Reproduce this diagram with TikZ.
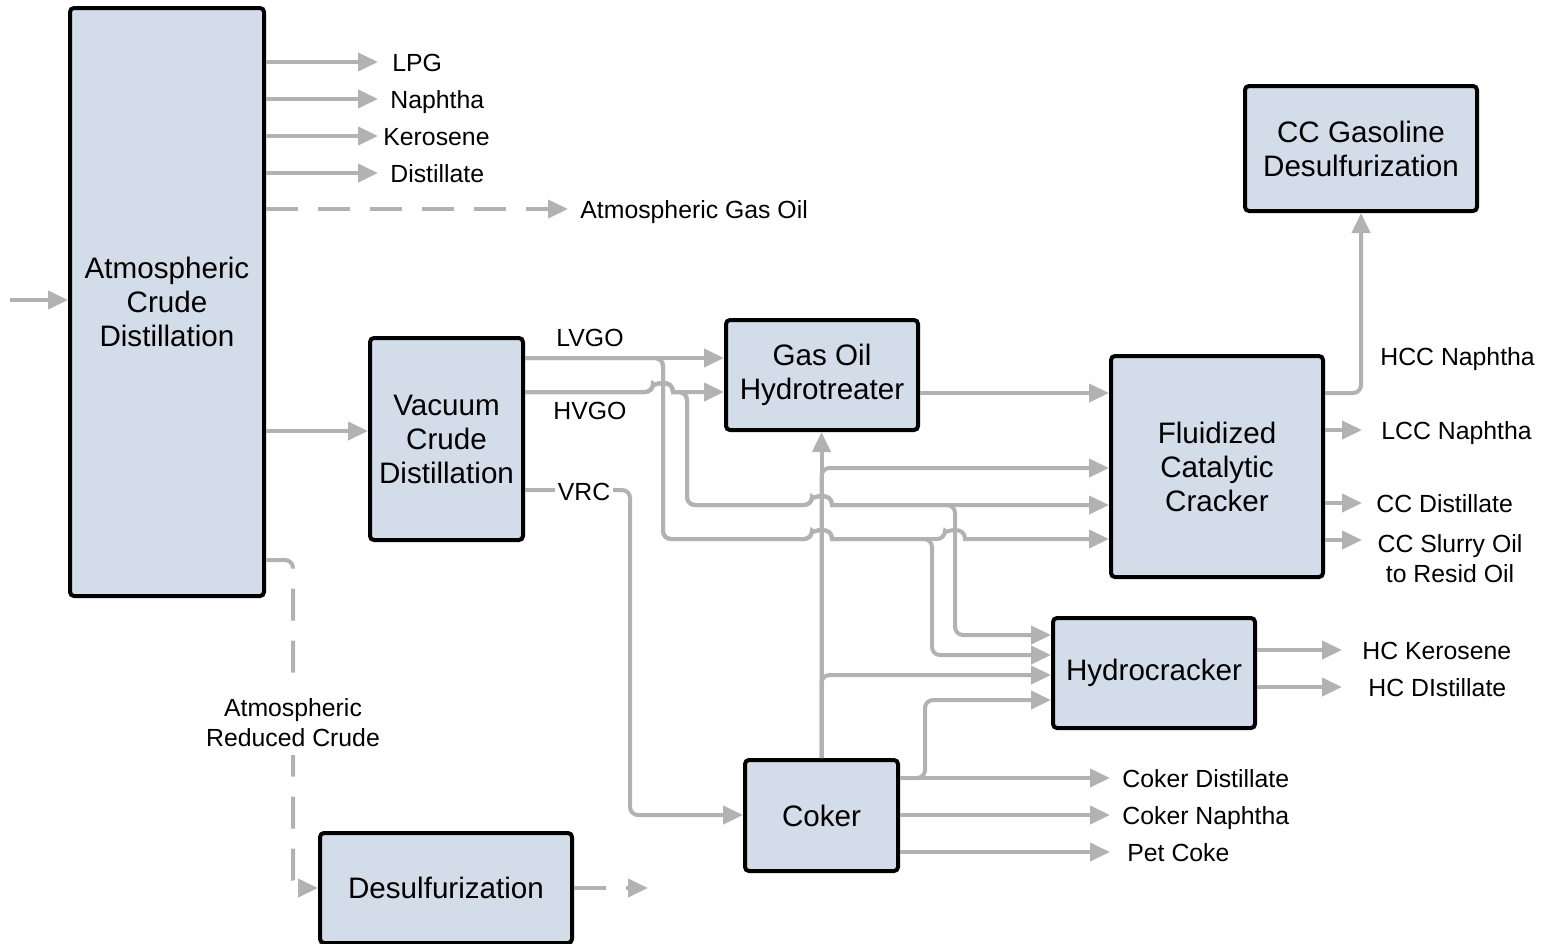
\documentclass[tikz,border=0pt]{standalone}
\usepackage{xcolor}
\definecolor{unitblue}{RGB}{211,220,233}
\definecolor{flowgrey}{RGB}{178,178,178}
\usepackage{fontspec}
\setmainfont{Liberation Sans}
\usepackage{tikz}
\usetikzlibrary{arrows.meta}
\newcommand{\unitfont}{\fontsize{14.8}{17}\selectfont}
\newcommand{\tagfont}{\fontsize{12.4}{15}\selectfont}
% small bridge where a flow jumps over another one
\newcommand{\flowhop}[2]{-- ({#1-10},#2) [sharp corners] .. controls ({#1-10},{#2-6}) and ({#1-6},{#2-9}) .. (#1,{#2-9}) .. controls ({#1+6},{#2-9}) and ({#1+10},{#2-6}) .. ({#1+10},#2) -- ({#1+12},#2) [rounded corners=4pt]}
\tikzset{
    unit/.style={draw, line width=2pt, fill=unitblue, rounded corners=2pt, align=center, font=\unitfont, inner sep=2pt},
    flow/.style={draw=flowgrey, line width=2pt, rounded corners=4pt},
    feed/.style={flow, -{Triangle[length=10pt, width=9pt]}},
    side/.style={feed, dash pattern=on 16pt off 10pt},
    tag/.style={font=\tagfont, anchor=west, inner ysep=0pt, inner xsep=6pt, text height=9pt, text depth=0pt},
    cut/.style={font=\tagfont, fill=white, inner sep=2pt, align=center}
}
\begin{document}
\begin{tikzpicture}[x=0.5pt, y=-0.5pt]
    \useasboundingbox (0,0) rectangle (1551,943);

    \node[unit, minimum width=97pt, minimum height=294pt] (acd) at (167,302) {Atmospheric\\Crude\\Distillation};
    \node[unit, minimum width=76.5pt, minimum height=101pt] (vcd) at (446.5,439) {Vacuum\\Crude\\Distillation};
    \node[unit, minimum width=96pt, minimum height=55pt] (goh) at (822,375) {Gas Oil\\Hydrotreater};
    \node[unit, minimum width=106pt, minimum height=110.5pt] (fcc) at (1217,466.5) {Fluidized\\Catalytic\\Cracker};
    \node[unit, minimum width=116pt, minimum height=62.5pt] (ccgd) at (1361,148.5) {CC Gasoline\\Desulfurization};
    \node[unit, minimum width=101pt, minimum height=55pt] (hc) at (1154,673) {Hydrocracker};
    \node[unit, minimum width=76.5pt, minimum height=55.5pt] (coker) at (821.5,815.5) {Coker};
    \node[unit, minimum width=126pt, minimum height=55pt] (desulf) at (446,888) {Desulfurization};

    \node[tag, inner xsep=7pt] (lpg) at (378,62) {LPG};
    \node[tag] (naphtha) at (378,99) {Naphtha};
    \node[tag, inner xsep=2.5pt] (kero) at (378,136) {Kerosene};
    \node[tag] (dist) at (378,173) {Distillate};
    \node[tag] (ago) at (568,209) {Atmospheric Gas Oil};
    \node[font=\tagfont] (lvgo) at (590,338) {LVGO};
    \node[font=\tagfont] (hvgo) at (590,411) {HVGO};
    \node[tag, inner xsep=0pt] (hcc) at (1380,356) {HCC Naphtha};
    \node[tag, inner xsep=9.5pt] (lcc) at (1362,430) {LCC Naphtha};
    \node[tag, inner xsep=7pt] (ccdist) at (1362,503) {CC Distillate};
    \node[font=\tagfont, align=center, anchor=north, inner sep=0pt] (slurry) at (1450,534) {CC Slurry Oil\\to Resid Oil};
    \node[tag, inner xsep=10pt] (hcker) at (1342,650) {HC Kerosene};
    \node[tag, inner xsep=13pt] (hcdist) at (1342,687) {HC DIstillate};
    \node[tag] (ckdist) at (1110,778) {Coker Distillate};
    \node[tag] (cknaph) at (1110,815) {Coker Naphtha};
    \node[tag, inner xsep=8.5pt] (petcoke) at (1110,852) {Pet Coke};
    \coordinate (crude) at (10,300);
    \coordinate (slurrytip) at (1362,540);
    \coordinate (dsout) at (648,888);

    % crude unit
    \draw[feed] (crude) -- (acd.west |- crude);
    \foreach \p in {lpg,naphtha,kero,dist}
        \draw[feed] (acd.east |- \p) -- (\p);
    \draw[side] (acd.east |- ago) -- (ago);
    \draw[feed] (acd.east |- 0,431) -- (vcd.west |- 0,431);
    \draw[side] (acd.east |- 0,560) -- (293,560) -- (293,888) -- (desulf.west);
    \node[cut, inner ysep=4pt] (arc) at (293,723) {Atmospheric\\Reduced Crude};
    \draw[side] (desulf.east) -- (dsout);

    % vacuum unit
    \draw[feed] (vcd.east |- 0,358) -- (goh.west |- 0,358);
    \draw[feed] (vcd.east |- 0,392) \flowhop{663}{392} -- (goh.west |- 0,392);
    \draw[feed] (vcd.east |- 0,358) -- (663,358) -- (663,539) \flowhop{822}{539} \flowhop{955}{539} -- (fcc.west |- 0,539);
    \draw[feed] (vcd.east |- 0,358) -- (663,358) -- (663,539) \flowhop{822}{539} -- (932,539) -- (932,655) -- (hc.west |- 0,655);
    \draw[feed] (vcd.east |- 0,392) \flowhop{663}{392} -- (687,392) -- (687,505) \flowhop{822}{505} -- (fcc.west |- 0,505);
    \draw[feed] (vcd.east |- 0,392) \flowhop{663}{392} -- (687,392) -- (687,505) \flowhop{822}{505} -- (955,505) -- (955,635) -- (hc.west |- 0,635);
    \draw[feed] (vcd.east |- 0,490) -- (630,490) -- (630,815) -- (coker.west |- 0,815);
    \node[cut, inner sep=1.5pt] (vrc) at (584,492) {VRC};

    % coker
    \draw[feed] (coker.north) -- (coker.north |- goh.south);
    \draw[feed] (coker.north) -- (coker.north |- 0,468) -- (fcc.west |- 0,468);
    \draw[feed] (coker.north) -- (coker.north |- 0,675) -- (hc.west |- 0,675);
    \draw[feed] (coker.east |- ckdist) -- (925,778) -- (925,700) -- (hc.west |- 0,700);
    \foreach \p in {ckdist,cknaph,petcoke}
        \draw[feed] (coker.east |- \p) -- (\p);

    % cat cracker and hydrocracker
    \draw[feed] (goh.east |- 0,393) -- (fcc.west |- 0,393);
    \draw[feed] (fcc.east |- 0,393) -- (ccgd.south |- 0,393) -- (ccgd.south);
    \foreach \p in {lcc,ccdist}
        \draw[feed] (fcc.east |- \p) -- (\p);
    \draw[feed] (fcc.east |- slurrytip) -- (slurrytip);
    \foreach \p in {hcker,hcdist}
        \draw[feed] (hc.east |- \p) -- (\p);
\end{tikzpicture}
\end{document}
